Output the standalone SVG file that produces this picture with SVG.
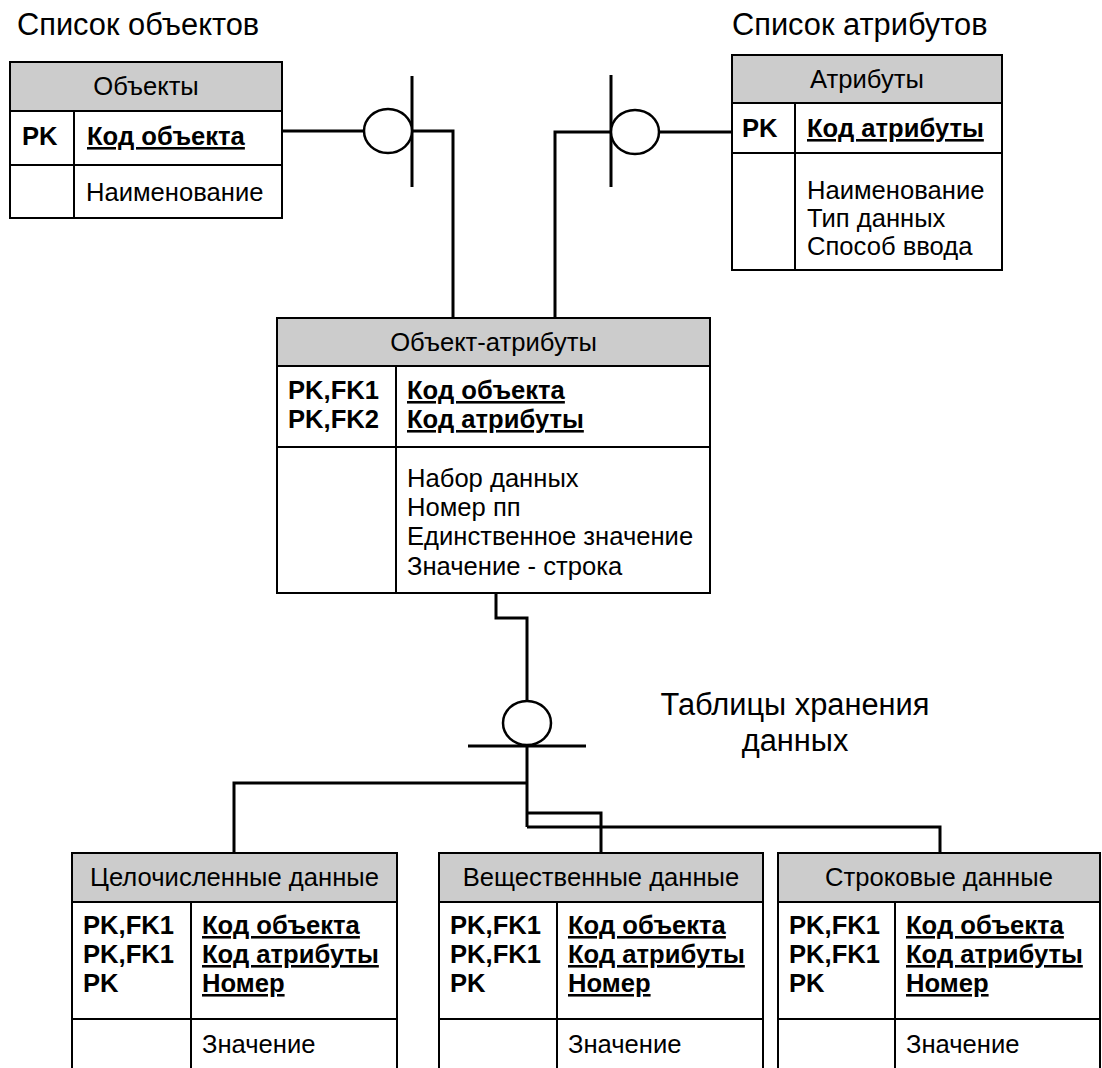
<svg xmlns="http://www.w3.org/2000/svg" width="1102" height="1068" viewBox="0 0 1102 1068">
<style>
.bg{fill:#fff}
.hdr{fill:#cccccc;stroke:#000;stroke-width:2}
.box{fill:#fff;stroke:#000;stroke-width:2}
.ln{stroke:#000;stroke-width:2;fill:none}
.t{font-family:"Liberation Sans",Arial,sans-serif;font-size:25.6px;fill:#000}
.m{text-anchor:middle}
.b{font-weight:bold}
.u{text-decoration:underline}
.title{font-family:"Liberation Sans",Arial,sans-serif;font-size:30.8px;fill:#000}
.conn{stroke:#000;stroke-width:3;fill:none}
.circ{fill:#fff;stroke:#000;stroke-width:2.5}
</style>
<rect class="bg" x="0" y="0" width="1102" height="1068"/>

<g id="labels">
<text class="title" x="17" y="35">Список объектов</text>
<text class="title" x="732" y="35">Список атрибутов</text>
<text class="title" x="795" y="715" text-anchor="middle">Таблицы хранения</text>
<text class="title" x="795" y="751" text-anchor="middle">данных</text>
</g>

<g id="connectors">
<polyline class="conn" points="282,131 364,131"/>
<polyline class="conn" points="412,131 453,131 453,318"/>
<line class="conn" x1="412" y1="76" x2="412" y2="187"/>
<ellipse class="circ" cx="388" cy="131" rx="24" ry="22"/>

<polyline class="conn" points="732,132 659,132"/>
<polyline class="conn" points="611,132 555,132 555,318"/>
<line class="conn" x1="611" y1="75" x2="611" y2="187"/>
<ellipse class="circ" cx="635" cy="132" rx="24" ry="22"/>

<polyline class="conn" points="496,593 496,618 527,618 527,701"/>
<ellipse class="circ" cx="527" cy="723" rx="24" ry="22"/>
<line class="conn" x1="468" y1="746" x2="586" y2="746"/>
<polyline class="conn" points="527,746 527,827"/>
<polyline class="conn" points="527,783 234,783 234,853"/>
<polyline class="conn" points="527,813 601,813 601,853"/>
<polyline class="conn" points="527,827 940,827 940,853"/>
</g>

<g id="objects">
<rect class="hdr" x="10" y="62" width="272" height="49"/>
<rect class="box" x="10" y="111" width="272" height="107"/>
<line class="ln" x1="10" y1="165" x2="282" y2="165"/>
<line class="ln" x1="74" y1="111" x2="74" y2="218"/>
<text class="t m" x="146" y="95">Объекты</text>
<text class="t b" x="22" y="145">PK</text>
<text class="t b u" x="87" y="145">Код объекта</text>
<text class="t" x="86" y="201">Наименование</text>
</g>

<g id="attributes">
<rect class="hdr" x="732" y="55" width="270" height="48"/>
<rect class="box" x="732" y="103" width="270" height="167"/>
<line class="ln" x1="732" y1="153" x2="1002" y2="153"/>
<line class="ln" x1="795" y1="103" x2="795" y2="270"/>
<text class="t m" x="867" y="88">Атрибуты</text>
<text class="t b" x="742" y="137">PK</text>
<text class="t b u" x="807" y="137">Код атрибуты</text>
<text class="t" x="807" y="199">Наименование</text>
<text class="t" x="807" y="227">Тип данных</text>
<text class="t" x="807" y="255">Способ ввода</text>
</g>

<g id="object-attributes">
<rect class="hdr" x="277" y="318" width="433" height="48"/>
<rect class="box" x="277" y="366" width="433" height="227"/>
<line class="ln" x1="277" y1="447" x2="710" y2="447"/>
<line class="ln" x1="396" y1="366" x2="396" y2="593"/>
<text class="t m" x="493.5" y="351">Объект-атрибуты</text>
<text class="t b" x="288" y="399">PK,FK1</text>
<text class="t b" x="288" y="428">PK,FK2</text>
<text class="t b u" x="407" y="399">Код объекта</text>
<text class="t b u" x="407" y="428">Код атрибуты</text>
<text class="t" x="407" y="487">Набор данных</text>
<text class="t" x="407" y="516">Номер пп</text>
<text class="t" x="407" y="545">Единственное значение</text>
<text class="t" x="407" y="575">Значение - строка</text>
</g>

<g id="integer-data">
<rect class="hdr" x="72" y="853" width="325" height="49"/>
<rect class="box" x="72" y="902" width="325" height="190"/>
<line class="ln" x1="72" y1="1019" x2="397" y2="1019"/>
<line class="ln" x1="191" y1="902" x2="191" y2="1092"/>
<text class="t m" x="234.5" y="886">Целочисленные данные</text>
<text class="t b" x="83" y="934">PK,FK1</text>
<text class="t b" x="83" y="963">PK,FK1</text>
<text class="t b" x="83" y="992">PK</text>
<text class="t b u" x="202" y="934">Код объекта</text>
<text class="t b u" x="202" y="963">Код атрибуты</text>
<text class="t b u" x="202" y="992">Номер</text>
<text class="t" x="202" y="1053">Значение</text>
</g>

<g id="real-data">
<rect class="hdr" x="439" y="853" width="324" height="49"/>
<rect class="box" x="439" y="902" width="324" height="190"/>
<line class="ln" x1="439" y1="1019" x2="763" y2="1019"/>
<line class="ln" x1="557" y1="902" x2="557" y2="1092"/>
<text class="t m" x="601" y="886">Вещественные данные</text>
<text class="t b" x="450" y="934">PK,FK1</text>
<text class="t b" x="450" y="963">PK,FK1</text>
<text class="t b" x="450" y="992">PK</text>
<text class="t b u" x="568" y="934">Код объекта</text>
<text class="t b u" x="568" y="963">Код атрибуты</text>
<text class="t b u" x="568" y="992">Номер</text>
<text class="t" x="568" y="1053">Значение</text>
</g>

<g id="string-data">
<rect class="hdr" x="778" y="853" width="322" height="49"/>
<rect class="box" x="778" y="902" width="322" height="190"/>
<line class="ln" x1="778" y1="1019" x2="1100" y2="1019"/>
<line class="ln" x1="895" y1="902" x2="895" y2="1092"/>
<text class="t m" x="939" y="886">Строковые данные</text>
<text class="t b" x="789" y="934">PK,FK1</text>
<text class="t b" x="789" y="963">PK,FK1</text>
<text class="t b" x="789" y="992">PK</text>
<text class="t b u" x="906" y="934">Код объекта</text>
<text class="t b u" x="906" y="963">Код атрибуты</text>
<text class="t b u" x="906" y="992">Номер</text>
<text class="t" x="906" y="1053">Значение</text>
</g>
</svg>
